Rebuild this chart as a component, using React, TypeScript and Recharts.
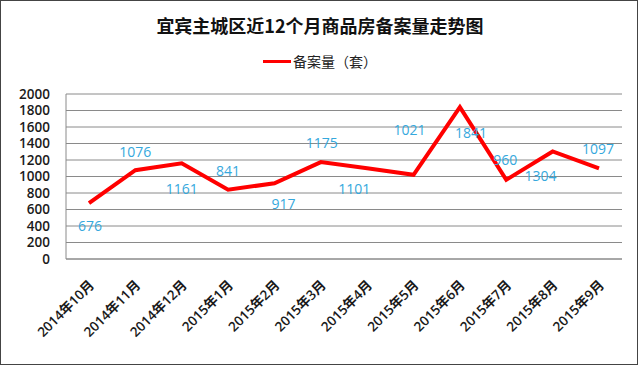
import React from "react";
import { LineChart, Line, XAxis, YAxis, CartesianGrid, Legend, LabelList } from "recharts";

const months = [
  "2014年10月", "2014年11月", "2014年12月", "2015年1月", "2015年2月", "2015年3月",
  "2015年4月", "2015年5月", "2015年6月", "2015年7月", "2015年8月", "2015年9月",
];
const units = [676, 1076, 1161, 841, 917, 1175, 1101, 1021, 1841, 960, 1304, 1097];
const yTicks = [0, 200, 400, 600, 800, 1000, 1200, 1400, 1600, 1800, 2000];
const seriesName = "备案量（套）";
const title = "宜宾主城区近12个月商品房备案量走势图";

// label placement relative to each point (dx, dy)
const labelOffsets: [number, number][] = [
  [1, 22], [0, -19], [0, 25], [0, -19], [9, 20], [1, -20],
  [-13, 20], [-4, -45], [11, 25], [-1, -20], [-12, 24], [-1, -20],
];

const data = months.map((m, i) => ({ month: m, value: units[i] }));

const FONT = "'Open Sans', 'Noto Sans CJK SC', sans-serif";

const XTick = (props: any) => {
  const { x, y, payload } = props;
  const ax = x + 6;
  const ay = y + 25;
  return (
    <text
      x={ax}
      y={ay}
      textAnchor="end"
      transform={`rotate(-45, ${ax}, ${ay})`}
      fontSize={13.5}
      fontWeight={600}
      fontFamily={FONT}
      fill="#1a1a1a"
    >
      {payload.value}
    </text>
  );
};

const DataLabel = (props: any) => {
  const { x, y, value, index } = props;
  const [dx, dy] = labelOffsets[index] || [0, 0];
  return (
    <text
      x={x + dx}
      y={y + dy}
      textAnchor="middle"
      dominantBaseline="central"
      fontSize={14}
      fontFamily={FONT}
      fill="#35A8DD"
    >
      {value}
    </text>
  );
};

const LegendContent = () => (
  <div style={{ display: "flex", alignItems: "center", justifyContent: "center", width: 640, height: 20 }}>
    <span style={{ display: "inline-block", width: 28, height: 3, background: "#FF0000", marginRight: 2 }} />
    <span style={{ fontFamily: "'Noto Sans CJK SC', sans-serif", fontSize: 14, color: "#222" }}>{seriesName}</span>
  </div>
);

export default function App() {
  return (
    <div style={{ position: "fixed", left: 0, top: 0, width: 640, height: 366, background: "#fff" }}>
      <div
        style={{
          position: "absolute", left: 0, top: 13, width: 640, textAlign: "center",
          fontFamily: "'Noto Sans CJK SC', sans-serif", fontWeight: 700, fontSize: 18, color: "#111",
          lineHeight: "24px",
        }}
      >
        {title}
      </div>
      <LineChart width={640} height={366} data={data} margin={{ top: 94, right: 18, left: 6, bottom: 0 }}>
        <CartesianGrid vertical={false} stroke="#8a8a8a" strokeWidth={1} />
        <XAxis
          dataKey="month"
          height={107}
          interval={0}
          padding={{ left: 23, right: 23 }}
          tickLine={false}
          tickSize={0}
          stroke="#8a8a8a"
          tick={<XTick />}
        />
        <YAxis
          width={60}
          domain={[0, 2000]}
          ticks={yTicks}
          interval={0}
          tickLine={false}
          tickSize={0}
          tickMargin={16}
          stroke="#8a8a8a"
          tick={{ fontSize: 13.5, fontWeight: 600, fontFamily: FONT, fill: "#1a1a1a" }}
        />
        <Legend
          layout="vertical"
          align="center"
          verticalAlign="middle"
          content={<LegendContent />}
          wrapperStyle={{ top: 51, left: 0, width: 640 }}
        />
        <Line
          type="linear"
          dataKey="value"
          name={seriesName}
          stroke="#FF0000"
          strokeWidth={4}
          dot={false}
          activeDot={false}
          isAnimationActive={false}
        >
          <LabelList dataKey="value" content={<DataLabel />} />
        </Line>
      </LineChart>
      <div
        style={{
          position: "absolute", left: 0, top: 0, width: 638, height: 365,
          border: "1.5px solid #444", boxSizing: "border-box", pointerEvents: "none",
        }}
      />
    </div>
  );
}
